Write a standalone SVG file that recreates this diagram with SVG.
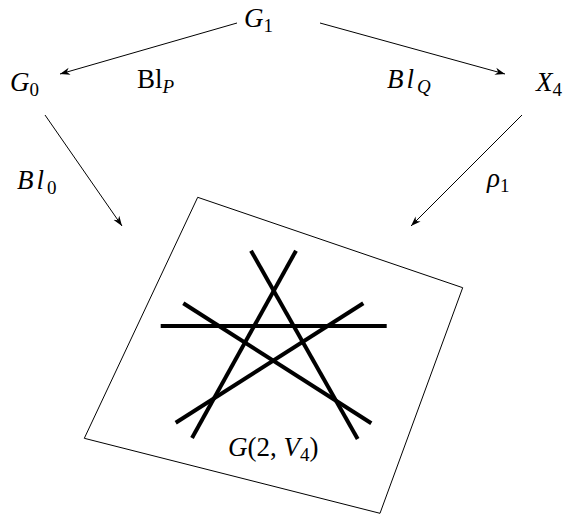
<svg xmlns="http://www.w3.org/2000/svg" width="567" height="517" viewBox="0 0 567 517">
<defs>
<style>
text{font-family:"Liberation Serif","Times New Roman",serif;font-size:27px;fill:#000}
.i{font-style:italic}
.s{font-size:19px}
.c{stroke:#000;stroke-width:1;fill:none}
.st{stroke:#000;stroke-width:4;fill:none}
</style>
<marker id="ah" viewBox="-10 -5 12 10" refX="0" refY="0" markerWidth="12" markerHeight="10" markerUnits="userSpaceOnUse" orient="auto">
<path d="M0,0 L-10,-3.6 L-7,0 L-10,3.6 Z" fill="#000"/>
</marker>
</defs>
<g id="connectors">
<line class="c" x1="237" y1="23" x2="60" y2="74" marker-end="url(#ah)"/>
<line class="c" x1="320" y1="23" x2="505" y2="74" marker-end="url(#ah)"/>
<line class="c" x1="45" y1="115" x2="122" y2="226" marker-end="url(#ah)"/>
<line class="c" x1="522" y1="115" x2="411" y2="226" marker-end="url(#ah)"/>
</g>
<g id="G1"><text x="244" y="27"><tspan class="i">G</tspan><tspan class="s" dy="5">1</tspan></text></g>
<g id="G0"><text x="10" y="91"><tspan class="i">G</tspan><tspan class="s" dy="5">0</tspan></text></g>
<g id="X4"><text x="536" y="91"><tspan class="i">X</tspan><tspan class="s" dy="5">4</tspan></text></g>
<g id="label-BlP"><text x="137" y="88">Bl<tspan class="s i" dy="5">P</tspan></text></g>
<g id="label-BlQ"><text x="387" y="88" class="i" letter-spacing="3">Bl<tspan class="s" dy="5" letter-spacing="0">Q</tspan></text></g>
<g id="label-Bl0"><text x="17" y="189"><tspan class="i" letter-spacing="3">Bl</tspan><tspan class="s" dy="5">0</tspan></text></g>
<g id="label-rho1"><text x="487" y="187"><tspan class="i">ρ</tspan><tspan class="s" dy="5">1</tspan></text></g>
<g id="G2V4">
<polygon class="c" points="197.7,197.3 462.7,287.7 380,513.3 84.3,438.3"/>
<line class="st" x1="160.7" y1="326" x2="386.7" y2="326"/>
<line class="st" x1="251" y1="250.7" x2="357.7" y2="439"/>
<line class="st" x1="296" y1="250.7" x2="192" y2="438"/>
<line class="st" x1="183.3" y1="303.3" x2="371.3" y2="423.3"/>
<line class="st" x1="363.3" y1="303.3" x2="175.7" y2="422.7"/>
<text x="228" y="456"><tspan class="i">G</tspan>(2, <tspan class="i">V</tspan><tspan class="s" dy="5">4</tspan><tspan dy="-5">)</tspan></text>
</g>
</svg>
